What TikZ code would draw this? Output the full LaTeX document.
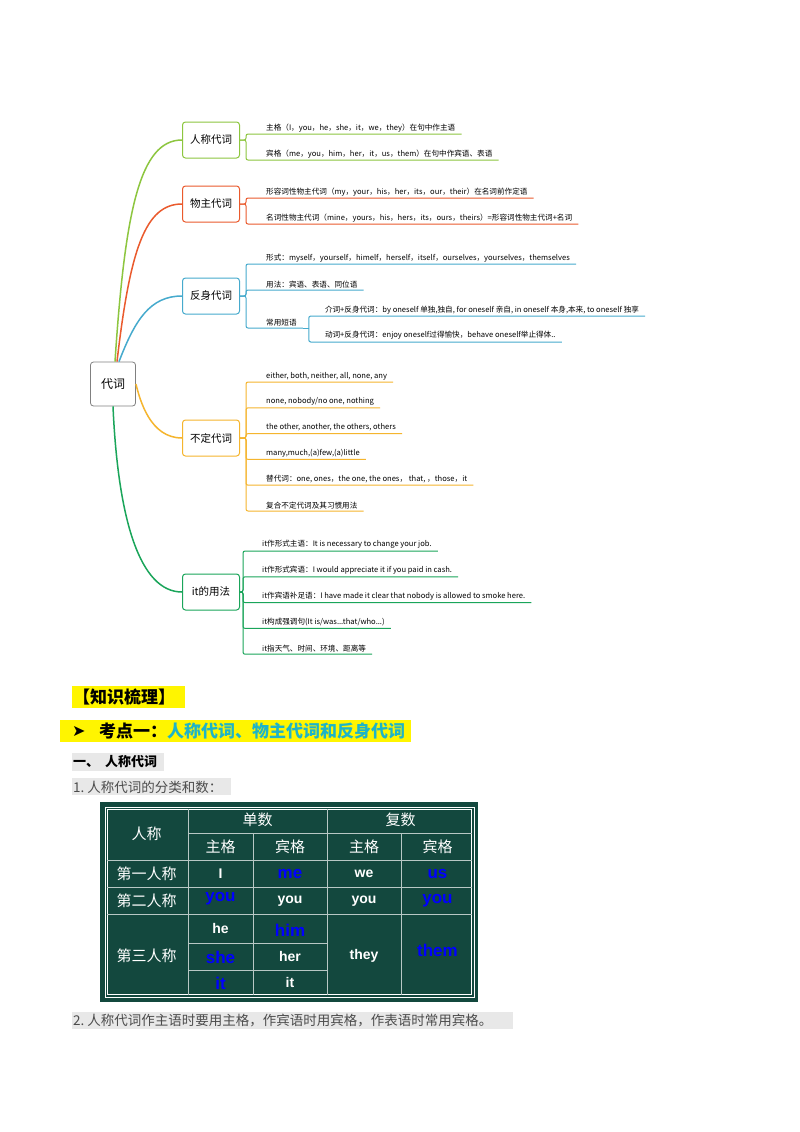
\documentclass[tikz,border=0pt]{standalone}
\usepackage{fontspec}
\setmainfont{Liberation Sans}
\newfontfamily\cjk{Noto Sans CJK SC}
\newfontfamily\eng{Liberation Sans}
\begin{document}
\begin{tikzpicture}[x=1pt,y=-1pt,
  bx/.style={draw=#1,line width=1pt,rounded corners=3pt,fill=white,minimum width=57pt,minimum height=36pt,font=\cjk\fontsize{10.5}{12}\selectfont},
  it/.style={anchor=south west,inner xsep=6pt,inner ysep=2pt,font=\cjk\fontsize{7.6}{8}\selectfont},
  br/.style={draw=#1,line width=1pt,rounded corners=2pt},
  hd/.style={text=white,font=\cjk\fontsize{15}{16}\selectfont},
  en/.style={text=white,font=\eng\bfseries\fontsize{14}{15}\selectfont},
  bl/.style={text=blue,font=\eng\bfseries\fontsize{17}{18}\selectfont}]
\definecolor{cg}{RGB}{141,198,63}\definecolor{co}{RGB}{234,90,45}
\definecolor{cb}{RGB}{70,170,205}\definecolor{cy}{RGB}{245,181,46}
\definecolor{cgr}{RGB}{26,165,90}\definecolor{tg}{RGB}{19,72,62}
\definecolor{cyan2}{RGB}{30,180,200}\definecolor{hl}{RGB}{255,245,0}
\definecolor{gbg}{RGB}{232,232,232}
\useasboundingbox (0,0) rectangle (800,1132);
\fill[white] (0,0) rectangle (800,1132);
% root
\node[draw=gray,line width=0.8pt,rounded corners=3pt,minimum width=45pt,minimum height=44pt,font=\cjk\fontsize{12}{14}\selectfont] (root) at (113,384) {代词};
\node[bx=cg] (b1) at (211,140) {人称代词};
\node[bx=co] (b2) at (211,204) {物主代词};
\node[bx=cb] (b3) at (211,296) {反身代词};
\node[bx=cy] (b4) at (211,438) {不定代词};
\node[bx=cgr] (b5) at (211,592) {it的用法};
\draw[cg,line width=1.5pt] (root.north) ++(2,0) .. controls (125,210) and (140,140) .. (b1.west);
\draw[co,line width=1.5pt] (root.north) ++(4,0) .. controls (130,250) and (145,204) .. (b2.west);
\draw[cb,line width=1.5pt] (root.north) ++(6,0) .. controls (135,320) and (150,296) .. (b3.west);
\draw[cy,line width=1.5pt] (root.east) .. controls (140,400) and (150,438) .. (b4.west);
\draw[cgr,line width=1.5pt] (root.south) .. controls (118,520) and (140,592) .. (b5.west);
% items 1
\node[it] (a1) at (260,134) {主格（I，you，he，she，it，we，they）在句中作主语};
\node[it] (a2) at (260,160) {宾格（me，you，him，her，it，us，them）在句中作宾语、表语};
\foreach \n in {a1,a2} \draw[br=cg] (b1.east) -- ++(6,0) |- (\n.south east);
\node[it] (c1) at (260,198) {形容词性物主代词（my，your，his，her，its，our，their）在名词前作定语};
\node[it] (c2) at (260,224) {名词性物主代词（mine，yours，his，hers，its，ours，theirs）=形容词性物主代词+名词};
\foreach \n in {c1,c2} \draw[br=co] (b2.east) -- ++(6,0) |- (\n.south east);
\node[it] (d1) at (260,264) {形式：myself，yourself，himelf，herself，itself，ourselves，yourselves，themselves};
\node[it] (d2) at (260,290) {用法：宾语、表语、同位语};
\node[it] (d3) at (260,328) {常用短语};
\foreach \n in {d1,d2,d3} \draw[br=cb] (b3.east) -- ++(6,0) |- (\n.south east);
\coordinate (k) at ([xshift=6pt]d3.south east);
\draw[br=cb] (d3.south east) -- (k);
\node[it] (e1) at ([xshift=10pt]k |- 0,316) {介词+反身代词：by oneself 单独,独自, for oneself 亲自, in oneself 本身,本来,\ to oneself 独享};
\node[it] (e2) at ([xshift=10pt]k |- 0,342) {动词+反身代词：enjoy oneself过得愉快，behave oneself举止得体..};
\foreach \n in {e1,e2} \draw[br=cb] (k) |- (\n.south east);
% items 4
\foreach \t [count=\i] in {{either, both, neither, all, none, any},{none, nobody/no one, nothing},{the other, another, the others, others},{many,much,(a)few,(a)little},{替代词：one, ones，the one, the ones，\ that,\ ，those，it},{复合不定代词及其习惯用法}}{
  \node[it] (f\i) at (260,{382+25.8*(\i-1)}) {\t};
  \draw[br=cy] (b4.east) -- ++(6,0) |- (f\i.south east);}
\foreach \t [count=\i] in {{it作形式主语：It is necessary to change your job.},{it作形式宾语：I would appreciate it if you paid in cash.},{it作宾语补足语：I have made it clear that nobody is allowed to smoke here.},{it构成强调句(It is/was.\kern0pt.\kern0pt.that/who.\kern0pt.\kern0pt.)},{it指天气、时间、环境、距离等}}{
  \node[it] (g\i) at (256,{551+25.8*(\i-1)}) {\t};
  \draw[br=cgr] (b5.east) -- ++(3,0) |- (g\i.south east);}
% bottom text
\fill[hl] (72,686) rectangle (185,708);
\node[anchor=west,inner sep=0,font=\cjk\bfseries\fontsize{17}{18}\selectfont] (t1) at (73,697) {【知识梳理】};
\fill[hl] (60,720) rectangle (411,742);
\node[anchor=west,inner sep=0,font=\fontspec{DejaVu Sans}\bfseries\fontsize{16}{16}\selectfont] (ar) at (72,731) {➤};
\node[anchor=west,inner sep=0,font=\cjk\bfseries\fontsize{17}{18}\selectfont] (t2) at (99,731) {考点一：\textcolor{cyan2}{人称代词、物主代词和反身代词}};
\fill[gbg] (72,753) rectangle (164,771);
\node[anchor=west,inner sep=0,font=\cjk\bfseries\fontsize{13}{14}\selectfont] (t3) at (73,762) {一、\ \ 人称代词};
\fill[gbg] (72,778) rectangle (231,795);
\node[anchor=west,inner sep=0,text=black!70,font=\cjk\fontsize{13.5}{14}\selectfont] (t4) at (73,787) {1.\ 人称代词的分类和数：};
\fill[gbg] (72,1012) rectangle (513,1029);
\node[anchor=west,inner sep=0,text=black!70,font=\cjk\fontsize{13.5}{14}\selectfont] (t5) at (73,1021) {2.\ 人称代词作主语时要用主格，作宾语时用宾格，作表语时常用宾格。};
% table
\fill[tg] (100,802) rectangle (478,1002);
\draw[white,line width=0.8pt] (105,807) rectangle (474,997);
\draw[white,line width=0.6pt] (107.5,809.5) rectangle (471.5,994.5);
\begin{scope}[white!70!tg,line width=0.8pt]
\draw (188,809) -- (188,995); \draw (327,809) -- (327,995);
\draw (253,833) -- (253,995); \draw (401,833) -- (401,995);
\draw (188,833) -- (472,833);
\draw (107,860) -- (472,860); \draw (107,887) -- (472,887); \draw (107,914) -- (472,914);
\draw (188,943) -- (327,943); \draw (188,970) -- (327,970);
\end{scope}
\node[hd] (h1) at (146.5,834) {人称};
\node[hd] (h2) at (257.5,820) {单数};
\node[hd] (h3) at (400.5,820) {复数};
\node[hd] (h4) at (220.5,847) {主格};
\node[hd] (h5) at (290,847) {宾格};
\node[hd] (h6) at (364,847) {主格};
\node[hd] (h7) at (437.5,847) {宾格};
\node[hd] (r1) at (146.5,874) {第一人称};
\node[hd] (r2) at (146.5,901) {第二人称};
\node[hd] (r3) at (146.5,956) {第三人称};
\node[en] (x1) at (220.5,874) {I};
\node[bl] (x2) at (290,874) {me};
\node[en] (x3) at (364,874) {we};
\node[bl] (x4) at (437.5,874) {us};
\node[bl] (y1) at (220.5,899) {you};
\node[en] (y2) at (290,901) {you};
\node[en] (y3) at (364,901) {you};
\node[bl] (y4) at (437.5,901) {you};
\node[en] (z1) at (220.5,928) {he};
\node[bl] (z2) at (290,930) {him};
\node[bl] (z3) at (220.5,957) {she};
\node[en] (z4) at (290,956) {her};
\node[bl] (z5) at (220.5,983) {it};
\node[en] (z6) at (290,982) {it};
\node[en] (z7) at (364,956) {they};
\node[bl] (z8) at (437.5,950) {them};
\end{tikzpicture}
\end{document}
